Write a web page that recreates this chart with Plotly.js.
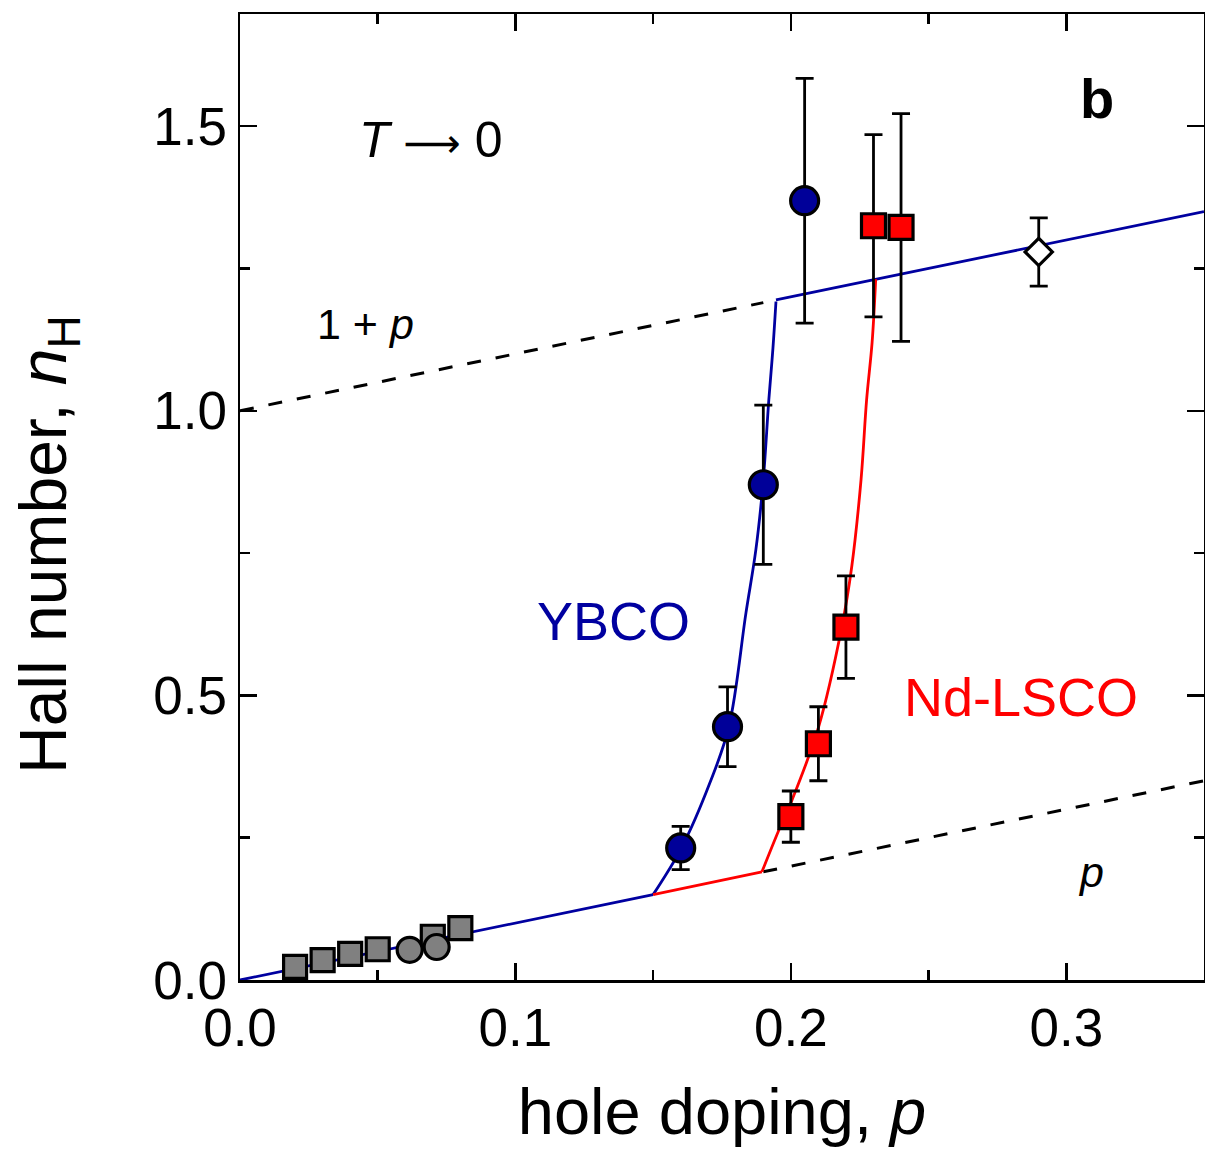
<!DOCTYPE html>
<html>
<head>
<meta charset="utf-8">
<script src="https://cdn.plot.ly/plotly-3.0.1.min.js"></script>
<style>html,body{margin:0;padding:0;background:#fff;}#chart{width:1205px;height:1155px;}</style>
</head>
<body>
<div id="chart"></div>
<script>
// Gray low-doping data
const graySqP = [0.02, 0.03, 0.04, 0.05, 0.07, 0.08];
const graySqN = [0.023, 0.035, 0.046, 0.054, 0.076, 0.091];
const grayCircP = [0.0616, 0.0714];
const grayCircN = [0.053, 0.058];
// YBCO
const ybcoP = [0.16, 0.177, 0.19, 0.205];
const ybcoN = [0.232, 0.445, 0.870, 1.369];
const ybcoErr = [0.038, 0.07, 0.14, 0.215];
// Nd-LSCO
const ndP = [0.20, 0.21, 0.22, 0.23, 0.24];
const ndN = [0.287, 0.415, 0.620, 1.325, 1.322];
const ndErr = [0.045, 0.065, 0.09, 0.16, 0.2];
// Open diamond
const diaP = [0.29];
const diaN = [1.279];
const diaErr = [0.06];
// Curves
const lowLineP = [0, 0.15];
const lowLineN = [0, 0.15];
const ybcoCurveP = [0.15, 0.1605, 0.1705, 0.1775, 0.1837, 0.1873, 0.1899, 0.192, 0.1935, 0.1946];
const ybcoCurveN = [0.15, 0.234, 0.345, 0.445, 0.645, 0.756, 0.873, 1.019, 1.11, 1.192];
const highLineP = [0.1946, 0.35];
const highLineN = [1.1946, 1.35];
const ndStraightP = [0.15, 0.1895];
const ndStraightN = [0.15, 0.190];
const ndCurveP = [0.1895, 0.1957, 0.2004, 0.2101, 0.2185, 0.2221, 0.2255, 0.2275, 0.2295, 0.2308];
const ndCurveN = [0.190, 0.264, 0.316, 0.445, 0.620, 0.726, 0.88, 1.019, 1.12, 1.231];
const onePlusPx = [0, 0.19];
const onePlusPy = [1.0, 1.19];
const pLineX = [0.19, 0.35];
const pLineY = [0.19, 0.35];

const FONT = 'Liberation Sans, Arial, sans-serif';
const BLUE = '#0000A0';
const RED = '#FF0000';
const ebar = (arr) => ({type: 'data', array: arr, visible: true, color: 'black', thickness: 2.8, width: 9});
const DASH = '14px,15px';

const traces = [
  {x: onePlusPx, y: onePlusPy, mode: 'lines', line: {color: 'black', width: 3, dash: DASH}},
  {x: pLineX, y: pLineY, mode: 'lines', line: {color: 'black', width: 3, dash: DASH}},
  {x: lowLineP, y: lowLineN, mode: 'lines', line: {color: BLUE, width: 2.8}},
  {x: highLineP, y: highLineN, mode: 'lines', line: {color: BLUE, width: 2.8}},
  {x: ybcoCurveP, y: ybcoCurveN, mode: 'lines', line: {color: BLUE, width: 2.8, shape: 'spline', smoothing: 1}},
  {x: ndStraightP, y: ndStraightN, mode: 'lines', line: {color: RED, width: 2.8}},
  {x: ndCurveP, y: ndCurveN, mode: 'lines', line: {color: RED, width: 2.8, shape: 'spline', smoothing: 1}},
  {x: graySqP, y: graySqN, mode: 'markers', marker: {symbol: 'square', size: 23, color: '#808080', line: {color: 'black', width: 3.2}}},
  {x: grayCircP, y: grayCircN, mode: 'markers', marker: {symbol: 'circle', size: 25, color: '#808080', line: {color: 'black', width: 3.2}}},
  {x: ybcoP, y: ybcoN, mode: 'markers', error_y: ebar(ybcoErr), marker: {symbol: 'circle', size: 28, color: '#000099', line: {color: 'black', width: 3.2}}},
  {x: ndP, y: ndN, mode: 'markers', error_y: ebar(ndErr), marker: {symbol: 'square', size: 24, color: RED, line: {color: 'black', width: 3.2}}},
  {x: diaP, y: diaN, mode: 'markers', error_y: ebar(diaErr), marker: {symbol: 'diamond', size: 21, color: 'white', line: {color: 'black', width: 3.2}}}
];

const axisCommon = {
  showgrid: false, zeroline: false, showline: true, linecolor: 'black', linewidth: 2.5,
  mirror: 'ticks', ticks: 'inside', ticklen: 17, tickwidth: 2.5, tickcolor: 'black',
  tickfont: {family: FONT, size: 53, color: 'black'}
};

const plotW = 1205 - 240 - 1, plotH = 1155 - 14 - 175;

const layout = {
  width: 1205, height: 1155,
  margin: {l: 240, r: 1, t: 14, b: 175},
  paper_bgcolor: 'white', plot_bgcolor: 'white',
  showlegend: false,
  font: {family: FONT, color: 'black'},
  xaxis: Object.assign({}, axisCommon, {
    range: [0, 0.35], dtick: 0.1, tick0: 0, tickformat: '.1f',
    minor: {dtick: 0.05, ticklen: 10, tickwidth: 2.5, tickcolor: 'black', ticks: 'inside'},
    title: {text: 'hole doping, <i>p</i>', font: {family: FONT, size: 65, color: 'black'}, standoff: 33}
  }),
  yaxis: Object.assign({}, axisCommon, {
    range: [0, 1.697], dtick: 0.5, tick0: 0, tickformat: '.1f',
    minor: {dtick: 0.25, ticklen: 10, tickwidth: 2.5, tickcolor: 'black', ticks: 'inside'}
  }),
  annotations: [
    {x: (48 - 240) / plotW, y: (980 - 545) / plotH, xref: 'paper', yref: 'paper', xanchor: 'center', yanchor: 'middle',
     text: 'Hall number, <i>n</i><sub>H</sub>', showarrow: false, textangle: -90,
     font: {family: FONT, size: 66, color: 'black'}},
    {x: 0.311, y: 1.548, xref: 'x', yref: 'y', text: '<b>b</b>', showarrow: false, font: {family: FONT, size: 56, color: 'black'}},
    {x: 0.0695, y: 1.475, xref: 'x', yref: 'y', text: '<i>T</i> <span style="font-family:DejaVu Sans;font-size:40px">\u27F6</span> 0', showarrow: false, font: {family: FONT, size: 50, color: 'black'}},
    {x: 0.0455, y: 1.152, xref: 'x', yref: 'y', text: '1 + <i>p</i>', showarrow: false, font: {family: FONT, size: 43, color: 'black'}},
    {x: 0.309, y: 0.19, xref: 'x', yref: 'y', text: '<i>p</i>', showarrow: false, font: {family: FONT, size: 43, color: 'black'}},
    {x: 0.1355, y: 0.631, xref: 'x', yref: 'y', text: 'YBCO', showarrow: false, font: {family: FONT, size: 54, color: BLUE}},
    {x: 0.2835, y: 0.497, xref: 'x', yref: 'y', text: 'Nd-LSCO', showarrow: false, font: {family: FONT, size: 54, color: RED}}
  ]
};

Plotly.newPlot('chart', traces, layout, {displayModeBar: false, staticPlot: true});
</script>
</body>
</html>
